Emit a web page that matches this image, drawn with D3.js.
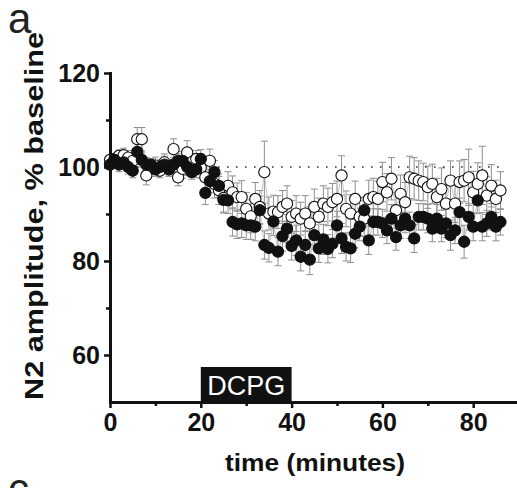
<!DOCTYPE html>
<html>
<head>
<meta charset="utf-8">
<script src="https://cdn.jsdelivr.net/npm/d3@7/dist/d3.min.js"></script>
<style>
  html, body { margin: 0; padding: 0; background: #fff; }
  svg { display: block; }
  text { font-family: "Liberation Sans", Arial, Helvetica, sans-serif; }
</style>
</head>
<body>
<svg id="chart" width="517" height="488"></svg>
<script>
// ---- data (time in minutes, N2 amplitude as % baseline) ----
const times = d3.range(0, 87);            // one sample per minute, 0..86
const filledValues = [
  100.5, 101.5, 100.5, 101.0, 100.0, 99.2, 103.2, 101.5, 100.5, 100.5,
  99.5, 100.0, 100.5, 99.5, 100.5, 101.3, 101.3, 100.0, 98.9, 99.5,
  101.7, 94.5, 97.0, 98.9, 96.0, 93.0, 92.9, 88.3, 87.8, 88.0,
  87.6, 87.6, 87.3, 90.8, 83.4, 82.8, 88.4, 82.0, 85.3, 86.9,
  83.2, 84.4, 80.9, 83.4, 80.3, 85.5, 82.7, 84.6, 82.6, 83.7,
  87.6, 84.8, 83.0, 82.7, 85.8, 87.3, 90.8, 84.4, 88.3, 88.3,
  88.0, 86.5, 89.0, 85.1, 87.6, 89.0, 87.6, 84.8, 89.4, 89.4,
  89.0, 86.9, 89.0, 86.9, 88.0, 85.5, 86.5, 90.4, 84.1, 89.4,
  87.3, 92.9, 87.3, 88.0, 89.4, 87.3, 88.3
];
const filledErrors = [
  1.0, 1.2, 1.5, 1.2, 1.5, 1.5, 1.8, 1.5, 1.5, 1.2,
  1.5, 1.5, 1.8, 1.5, 1.5, 1.5, 2.0, 1.8, 1.5, 1.8,
  2.0, 2.5, 2.5, 2.5, 2.5, 2.8, 2.8, 3.0, 3.0, 3.0,
  3.0, 3.0, 3.0, 3.0, 3.0, 3.0, 3.0, 3.0, 3.2, 3.0,
  3.0, 3.2, 3.0, 3.0, 3.2, 3.0, 3.0, 3.2, 3.0, 3.0,
  3.0, 3.2, 3.0, 3.0, 3.0, 3.0, 2.8, 3.0, 2.8, 2.8,
  3.0, 2.8, 3.0, 2.8, 2.8, 3.0, 2.8, 3.0, 2.8, 2.8,
  3.0, 2.8, 3.0, 2.8, 3.0, 3.2, 2.8, 3.0, 3.5, 2.8,
  3.0, 2.8, 3.0, 2.8, 2.8, 3.0, 2.8
];
const openValues = [
  101.5, 101.7, 102.4, 102.5, 102.0, 101.3, 105.9, 105.9, 98.2, 100.3,
  100.3, 99.2, 101.0, 99.6, 103.8, 97.8, 99.6, 103.1, 101.0, 101.7,
  99.9, 97.8, 101.3, 96.4, 95.0, 93.4, 96.0, 94.6, 93.6, 93.6,
  91.1, 89.5, 93.2, 91.5, 98.9, 90.1, 90.5, 90.4, 91.5, 92.2,
  89.4, 90.1, 89.0, 90.1, 88.0, 91.5, 89.4, 92.2, 91.5, 92.5,
  93.2, 98.2, 91.1, 90.1, 93.2, 89.4, 89.0, 93.2, 93.6, 93.2,
  96.8, 94.6, 97.5, 90.8, 94.3, 92.5, 97.8, 97.5, 97.1, 96.8,
  95.7, 96.4, 93.6, 95.3, 92.2, 97.1, 92.2, 96.8, 97.1, 97.8,
  94.6, 96.4, 98.2, 93.9, 96.0, 93.2, 95.0
];
const openErrors = [
  1.0, 1.2, 1.2, 1.5, 1.5, 1.5, 2.5, 2.5, 2.0, 1.5,
  1.8, 1.5, 1.8, 1.5, 2.2, 1.8, 2.0, 2.5, 1.8, 1.8,
  2.2, 2.5, 2.5, 3.0, 3.0, 3.0, 3.0, 3.5, 3.0, 3.5,
  3.5, 3.5, 3.5, 3.5, 6.6, 3.5, 3.5, 3.5, 3.5, 3.8,
  3.5, 3.8, 3.5, 3.8, 3.5, 3.8, 4.0, 3.8, 4.0, 4.0,
  3.8, 4.2, 3.8, 4.0, 3.8, 4.0, 3.8, 4.0, 4.0, 3.8,
  4.2, 4.0, 4.5, 3.8, 4.0, 4.2, 4.5, 4.5, 4.2, 4.0,
  4.5, 4.2, 4.0, 4.5, 4.0, 4.2, 4.0, 4.5, 4.5, 6.0,
  4.5, 4.5, 6.2, 4.0, 4.5, 4.0, 4.0
];
const xMajorTicks = [0, 20, 40, 60, 80];
const xMinorTicks = [10, 30, 50, 70, 90];
const yMajorTicks = [60, 80, 100, 120];
const yMinorTicks = [70, 90, 110];
const baselineLevel = 100;
const baselineEnd = 87;
const drugLabel = "DCPG";
const drugStart = 20, drugEnd = 40;
const xTitle = "time (minutes)";
const yTitle = "N2 amplitude, % baseline";
const panelLabel = "a";
const nextPanelLabel = "c";

// ---- chart ----
const svg = d3.select("#chart");
svg.append("rect").attr("width", 517).attr("height", 488).attr("fill", "#fff");

const x = d3.scaleLinear().domain([0, 90]).range([110, 518.6]);
const y = d3.scaleLinear().domain([50, 120]).range([402, 73]);

const series = [
  { values: openValues, errors: openErrors, fill: "#fff" },
  { values: filledValues, errors: filledErrors, fill: "#111" }
];

// error bars
const errG = svg.append("g").attr("stroke", "#8f8f8f").attr("stroke-width", 1).attr("fill", "none");
series.forEach(s => {
  times.forEach((t, i) => {
    const cx = x(t), v = s.values[i], e = s.errors[i];
    errG.append("line").attr("x1", cx).attr("x2", cx).attr("y1", y(v - e)).attr("y2", y(v + e));
    errG.append("line").attr("x1", cx - 3.5).attr("x2", cx + 3.5).attr("y1", y(v + e)).attr("y2", y(v + e));
    errG.append("line").attr("x1", cx - 3.5).attr("x2", cx + 3.5).attr("y1", y(v - e)).attr("y2", y(v - e));
  });
});

// thin connecting lines
series.forEach(s => {
  svg.append("path")
    .datum(times.map((t, i) => [t, s.values[i]]))
    .attr("fill", "none").attr("stroke", "#b5b5b5").attr("stroke-width", 0.8)
    .attr("d", d3.line().x(d => x(d[0])).y(d => y(d[1])));
});

// dotted 100% line
svg.append("line")
  .attr("x1", x(0)).attr("x2", x(baselineEnd))
  .attr("y1", y(baselineLevel)).attr("y2", y(baselineLevel))
  .attr("stroke", "#333").attr("stroke-width", 1.6)
  .attr("stroke-dasharray", "1.6 7.4");

// points
series.forEach(s => {
  svg.append("g").selectAll("circle").data(times).join("circle")
    .attr("cx", t => x(t)).attr("cy", (t, i) => y(s.values[i]))
    .attr("r", 5.6)
    .attr("fill", s.fill).attr("stroke", "#111").attr("stroke-width", 1.1);
});

// drug bar
svg.append("rect")
  .attr("x", x(drugStart)).attr("width", x(drugEnd) - x(drugStart))
  .attr("y", 367).attr("height", y(50) - 367)
  .attr("fill", "#111");
svg.append("text")
  .attr("x", (x(drugStart) + x(drugEnd)) / 2).attr("y", 395)
  .attr("text-anchor", "middle").attr("fill", "#fff")
  .attr("font-size", 27).text(drugLabel);

// axes
const xAxis = svg.append("g").attr("transform", `translate(0,${y(50)})`)
  .call(d3.axisBottom(x).tickValues(xMajorTicks).tickSize(6).tickSizeOuter(0).tickPadding(5).tickFormat(d3.format("d")));
const xMinor = svg.append("g").attr("transform", `translate(0,${y(50)})`)
  .call(d3.axisBottom(x).tickValues(xMinorTicks).tickSize(4).tickSizeOuter(0).tickFormat(""));
const yAxis = svg.append("g").attr("transform", `translate(${x(0)},0)`)
  .call(d3.axisLeft(y).tickValues(yMajorTicks).tickSize(6).tickSizeOuter(0).tickPadding(4).tickFormat(d3.format("d")));
const yMinor = svg.append("g").attr("transform", `translate(${x(0)},0)`)
  .call(d3.axisLeft(y).tickValues(yMinorTicks).tickSize(4).tickSizeOuter(0).tickFormat(""));

[xAxis, xMinor, yAxis, yMinor].forEach(g => {
  g.select(".domain").attr("stroke", "#111").attr("stroke-width", 3).attr("stroke-linecap", "square");
  g.selectAll(".tick line").attr("stroke", "#111").attr("stroke-width", 2.5);
  g.selectAll(".tick text").attr("fill", "#111").attr("font-size", 25).attr("font-weight", "bold")
    .attr("font-family", "'Liberation Sans', Arial, sans-serif");
});

// titles
svg.append("text")
  .attr("x", 225).attr("y", 471)
  .attr("font-size", 23).attr("font-weight", "bold").attr("fill", "#111")
  .attr("textLength", 180).attr("lengthAdjust", "spacingAndGlyphs")
  .text(xTitle);
svg.append("text")
  .attr("transform", "translate(43,400) rotate(-90)")
  .attr("font-size", 25).attr("font-weight", "bold").attr("fill", "#111")
  .attr("textLength", 368).attr("lengthAdjust", "spacingAndGlyphs")
  .text(yTitle);

svg.append("text").attr("x", 8).attr("y", 33)
  .attr("font-size", 42).attr("fill", "#222").text(panelLabel);
svg.append("text").attr("x", 8).attr("y", 503)
  .attr("font-size", 42).attr("fill", "#222").text(nextPanelLabel);
</script>
</body>
</html>
